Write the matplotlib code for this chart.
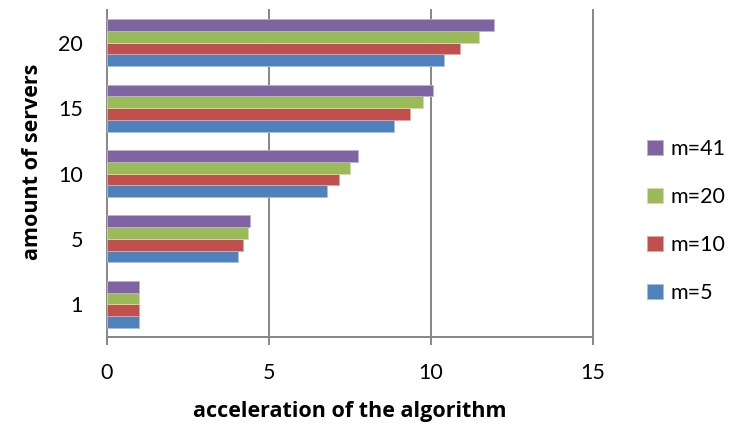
import matplotlib

matplotlib.use("Agg")
import matplotlib.pyplot as plt
import numpy as np

plt.rcParams["font.family"] = ["Lato", "DejaVu Sans"]

servers = ["1", "5", "10", "15", "20"]
series = ["m=5", "m=10", "m=20", "m=41"]
colors = ["#4F81BD", "#C0504D", "#9BBB59", "#8064A2"]
edges = ["#A7C0DE", "#DFA8A6", "#CDDDAC", "#BFB1D0"]

speedup_m5 = [1.0, 4.05, 6.79, 8.86, 10.41]
speedup_m10 = [1.0, 4.21, 7.17, 9.34, 10.91]
speedup_m20 = [1.0, 4.35, 7.51, 9.75, 11.47]
speedup_m41 = [1.0, 4.43, 7.74, 10.08, 11.94]
values = [speedup_m5, speedup_m10, speedup_m20, speedup_m41]

GREY = "#868686"
FS = 15.5

fig = plt.figure(figsize=(7.35, 4.25), dpi=100)
ax = fig.add_axes([106.7 / 735, 88 / 425, (593 - 106.7) / 735, (337 - 10) / 425])

y = np.arange(len(servers))
h = 0.18
for i, (lab, vals) in enumerate(zip(series, values)):
    ax.barh(y + (i - 1.5) * h, vals, height=h, color=colors[i],
            edgecolor=edges[i], linewidth=0.6, label=lab, zorder=3)

ax.set_xlim(0, 15)
ax.set_ylim(-0.5, len(servers) - 0.5)
ax.set_xticks([0, 5, 10, 15])
ax.set_yticks(y)
ax.set_yticklabels(servers)

for x in (5, 10, 15):
    ax.axvline(x, color=GREY, lw=1.4, zorder=1, clip_on=False)

for s in ("top", "right"):
    ax.spines[s].set_visible(False)
for s in ("left", "bottom"):
    ax.spines[s].set_color(GREY)
    ax.spines[s].set_linewidth(1.4)

ax.tick_params(axis="x", direction="out", length=6, width=1.4, color=GREY,
               pad=13, labelsize=FS)
ax.tick_params(axis="y", length=0, pad=17, labelsize=FS)

# axis titles, bold
title_font = dict(family=["Open Sans", "DejaVu Sans"], fontsize=15.5, fontweight="bold")
fig.text(350 / 735, (425 - 412) / 425, "acceleration of the algorithm",
         ha="center", va="center", **title_font)
fig.text(33 / 735, (425 - 162) / 425, "amount of servers", rotation=90,
         ha="center", va="center", **title_font)

handles, labels = ax.get_legend_handles_labels()
fig.legend(handles[::-1], labels[::-1], loc="center left",
           bbox_to_anchor=(647 / 735, (425 - 221) / 425), frameon=False,
           fontsize=FS, handlelength=0.75, handleheight=0.75,
           handletextpad=0.35, labelspacing=1.3, borderpad=0.0,
           borderaxespad=0.0)

fig.savefig("out.png", dpi=100)
